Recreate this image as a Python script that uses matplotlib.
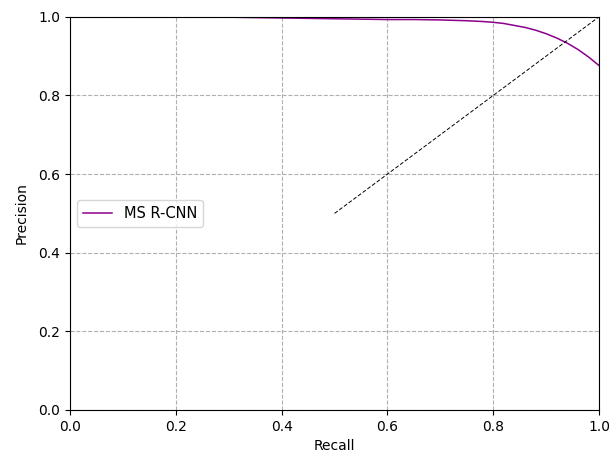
import matplotlib
matplotlib.use("Agg")
import matplotlib.pyplot as plt

# Precision-recall curve samples
recall = [0.0, 0.05, 0.1, 0.15, 0.2, 0.3, 0.4, 0.5, 0.6, 0.65, 0.7, 0.75, 0.78,
          0.8, 0.82, 0.84, 0.86, 0.88, 0.9, 0.92, 0.94, 0.96, 0.98, 1.0]
precision = [1.0, 1.0, 0.999, 1.0, 1.0, 0.999, 0.997, 0.995, 0.993, 0.993, 0.992,
             0.990, 0.988, 0.986, 0.983, 0.978, 0.973, 0.966, 0.957, 0.946,
             0.933, 0.917, 0.898, 0.876]

# Reference diagonal
diag_x = [0.5, 1.0]
diag_y = [0.5, 1.0]

fig = plt.figure(figsize=(6.1, 4.54), dpi=100)
ax = fig.add_axes([0.115, 0.097, 0.867, 0.866])

ax.plot(recall, precision, color="#8b008b", lw=1.1, label="MS R-CNN")
ax.plot(diag_x, diag_y, color="black", lw=0.7, linestyle=(0, (4, 2)))

ax.set_xlim(0, 1)
ax.set_ylim(0, 1)
ax.set_xlabel("Recall")
ax.set_ylabel("Precision", labelpad=7)
ax.grid(True, linestyle="--", color="#b0b0b0", lw=0.8)
ax.legend(loc="center left", fontsize=10.5)

fig.savefig("out.png", dpi=100)
